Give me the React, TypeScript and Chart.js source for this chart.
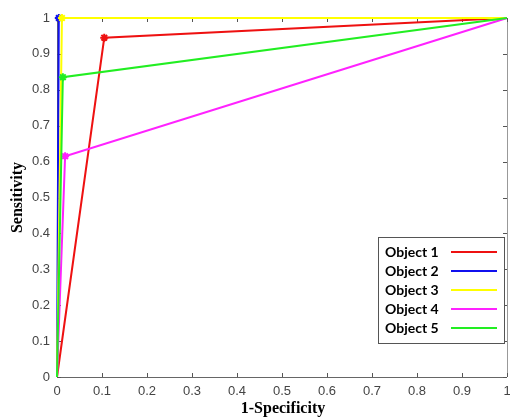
import React, { useEffect, useRef } from "react";
import { Chart, registerables } from "chart.js";

Chart.register(...registerables);

const seriesNames = ["Object 1", "Object 2", "Object 3", "Object 4", "Object 5"];
const seriesColors = ["#ee1111", "#1010ee", "#ffff00", "#ff22ff", "#22ee22"];
const fprValues = [
  [0, 0.105, 1],
  [0, 0.004, 1],
  [0, 0.011, 1],
  [0, 0.018, 1],
  [0, 0.013, 1],
];
const tprValues = [
  [0, 0.945, 1],
  [0, 1, 1],
  [0, 1, 1],
  [0, 0.615, 1],
  [0, 0.835, 1],
];
const tickValues = [0, 0.1, 0.2, 0.3, 0.4, 0.5, 0.6, 0.7, 0.8, 0.9, 1];
const xTitle = "1-Specificity";
const yTitle = "Sensitivity";

const decorPlugin = {
  id: "decor",
  beforeDatasetsDraw(chart: any) {
    const { ctx, chartArea } = chart;
    const { left, right, top, bottom } = chartArea;
    const xs = chart.scales.x;
    const ys = chart.scales.y;
    ctx.save();
    ctx.strokeStyle = "#999";
    ctx.lineWidth = 1;
    ctx.beginPath();
    ctx.moveTo(right + 0.5, top);
    ctx.lineTo(right + 0.5, bottom);
    ctx.moveTo(left, top + 0.5);
    ctx.lineTo(right, top + 0.5);
    ctx.stroke();
    ctx.strokeStyle = "#666";
    ctx.beginPath();
    ctx.moveTo(left + 0.5, top);
    ctx.lineTo(left + 0.5, bottom + 0.5);
    ctx.lineTo(right, bottom + 0.5);
    ctx.stroke();
    ctx.strokeStyle = "#555";
    ctx.beginPath();
    tickValues.forEach((v) => {
      const px = Math.round(xs.getPixelForValue(v)) + 0.5;
      ctx.moveTo(px, bottom);
      ctx.lineTo(px, bottom - 4);
      ctx.moveTo(px, top);
      ctx.lineTo(px, top + 4);
      const py = Math.round(ys.getPixelForValue(v)) + 0.5;
      ctx.moveTo(left, py);
      ctx.lineTo(left + 4, py);
      ctx.moveTo(right, py);
      ctx.lineTo(right - 4, py);
    });
    ctx.stroke();
    ctx.restore();
  },
  afterDraw(chart: any) {
    const { ctx, chartArea } = chart;
    const { top, bottom } = chartArea;
    ctx.save();
    ctx.fillStyle = "#000";
    ctx.font = "bold 16px 'Liberation Serif', serif";
    ctx.textAlign = "center";
    ctx.textBaseline = "middle";
    ctx.fillText(xTitle, 283, 409);
    ctx.save();
    ctx.translate(18, (top + bottom) / 2);
    ctx.rotate(-Math.PI / 2);
    ctx.fillText(yTitle, 0, 0);
    ctx.restore();
    const lx = 378, ly = 237, lw = 126, lh = 106;
    ctx.fillStyle = "#fff";
    ctx.fillRect(lx, ly, lw, lh);
    ctx.strokeStyle = "#555";
    ctx.lineWidth = 1;
    ctx.strokeRect(lx + 0.5, ly + 0.5, lw, lh);
    ctx.font = "bold 14px Lato, sans-serif";
    ctx.textAlign = "left";
    seriesNames.forEach((name, i) => {
      const cy = 252 + i * 19;
      ctx.fillStyle = "#000";
      ctx.fillText(name, 385, cy);
      ctx.strokeStyle = seriesColors[i];
      ctx.lineWidth = 2;
      ctx.beginPath();
      ctx.moveTo(451, cy);
      ctx.lineTo(497, cy);
      ctx.stroke();
      ctx.lineWidth = 1;
    });
    ctx.restore();
  },
};

export default function App() {
  const ref = useRef<HTMLCanvasElement>(null);
  useEffect(() => {
    document.body.style.margin = "0";
    const canvas = ref.current!;
    const chart = new Chart(canvas, {
      type: "scatter",
      data: {
        datasets: seriesNames.map((name, i) => ({
          label: name,
          data: fprValues[i].map((x, j) => ({ x, y: tprValues[i][j] })),
          showLine: true,
          borderColor: seriesColors[i],
          backgroundColor: seriesColors[i],
          borderWidth: 2,
          pointStyle: "star",
          pointRadius: [0, 4, 0],
          pointBorderWidth: 2,
          order: 5 - i,
        })),
      },
      options: {
        animation: false,
        responsive: false,
        clip: false as any,
        layout: { padding: { top: 18, right: 3, left: 0, bottom: 0 } },
        plugins: { legend: { display: false }, tooltip: { enabled: false } },
        scales: {
          x: {
            type: "linear",
            min: 0,
            max: 1,
            afterFit: (s: any) => { s.height = 43; s.paddingLeft = 0; s.paddingRight = 0; },
            afterBuildTicks: (s: any) => { s.ticks = tickValues.map((v) => ({ value: v })); },
            border: { display: false },
            grid: { drawOnChartArea: false, drawTicks: false },
            ticks: {
              padding: 7,
              color: "#444",
              font: { family: "'Liberation Sans', Arial", size: 13 },
              callback: (v: any) => String(Math.round(Number(v) * 10) / 10),
            },
          },
          y: {
            type: "linear",
            min: 0,
            max: 1,
            afterFit: (s: any) => { s.width = 57; s.paddingTop = 0; s.paddingBottom = 0; },
            afterBuildTicks: (s: any) => { s.ticks = tickValues.map((v) => ({ value: v })); },
            border: { display: false },
            grid: { drawOnChartArea: false, drawTicks: false },
            ticks: {
              padding: 7,
              color: "#444",
              font: { family: "'Liberation Sans', Arial", size: 13 },
              callback: (v: any) => String(Math.round(Number(v) * 10) / 10),
            },
          },
        },
      },
      plugins: [decorPlugin],
    });
    return () => chart.destroy();
  }, []);
  return <canvas ref={ref} width={510} height={420} style={{ display: "block" }} />;
}
